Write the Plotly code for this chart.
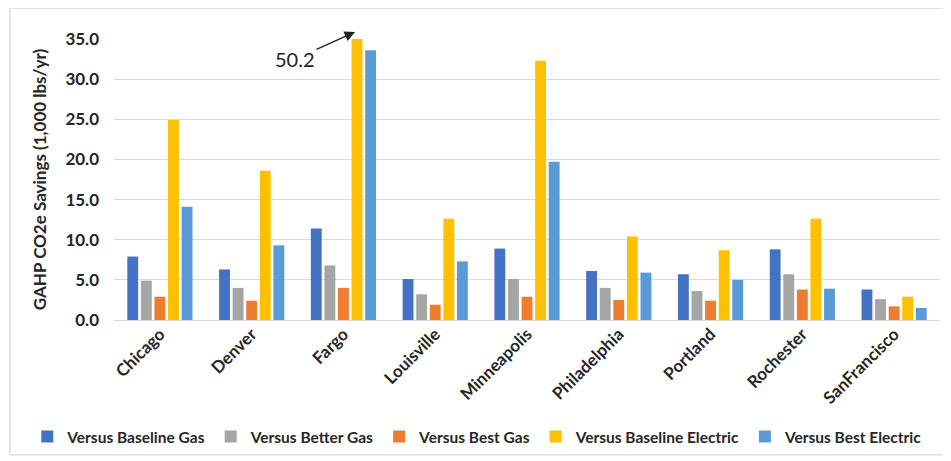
import plotly.graph_objects as go

cities = ["Chicago", "Denver", "Fargo", "Louisville", "Minneapolis",
          "Philadelphia", "Portland", "Rochester", "SanFrancisco"]
baseline_gas = [7.9, 6.3, 11.4, 5.1, 8.9, 6.1, 5.7, 8.8, 3.8]
better_gas = [4.9, 4.0, 6.8, 3.2, 5.1, 4.0, 3.6, 5.7, 2.6]
best_gas = [2.9, 2.4, 4.0, 1.9, 2.9, 2.5, 2.4, 3.8, 1.7]
baseline_electric = [24.9, 18.6, 50.2, 12.6, 32.3, 10.4, 8.7, 12.6, 2.9]
best_electric = [14.1, 9.3, 33.6, 7.3, 19.7, 5.9, 5.0, 3.9, 1.5]

series = [
    ("Versus Baseline Gas", baseline_gas, "#4472C4"),
    ("Versus Better Gas", better_gas, "#A5A5A5"),
    ("Versus Best Gas", best_gas, "#ED7D31"),
    ("Versus Baseline Electric", baseline_electric, "#FFC000"),
    ("Versus Best Electric", best_electric, "#5B9BD5"),
]

FONT = "Lato"
TXT = "#262626"
fig = go.Figure()
for name, vals, col in series:
    fig.add_trace(go.Bar(name=name, x=cities, y=vals, marker_color=col,
                         marker_line_width=0, cliponaxis=True))

# page body has an 8px default margin, so the figure is 8px smaller and shifted
fig.update_layout(
    width=943, height=453,
    margin=dict(l=106, r=11, t=31, b=141, autoexpand=False),
    paper_bgcolor="white", plot_bgcolor="white",
    barmode="group", bargap=0.26, bargroupgap=0.2,
    font=dict(family=FONT, color=TXT),
    legend=dict(orientation="h", x=-0.105, xanchor="left", y=-0.416, yanchor="middle",
                font=dict(family=FONT, size=15.5, color=TXT, weight="bold"),
                traceorder="normal", tracegroupgap=0),
    showlegend=True,
)
fig.update_xaxes(tickangle=-45, showgrid=False, showline=False, ticks="", automargin=False,
                 tickfont=dict(family=FONT, size=17, color=TXT, weight="bold"))
fig.update_yaxes(range=[0, 35], dtick=5, tickformat=".1f", showgrid=True, automargin=False,
                 gridcolor="#D9D9D9", gridwidth=1.3, zeroline=True, zerolinecolor="#D9D9D9",
                 zerolinewidth=1.3, ticks="", ticklabelstandoff=14,
                 tickfont=dict(family=FONT, size=17, color=TXT, weight="bold"),
                 title=dict(text="GAHP CO2e Savings (1,000 lbs/yr)", standoff=14,
                            font=dict(family=FONT, size=17, color=TXT, weight="bold")))

fig.add_annotation(x=2.126, y=1.025, xref="x", yref="paper", text="50.2",
                   showarrow=True, arrowhead=2, arrowsize=1.6, arrowwidth=1.3,
                   arrowcolor="#222222", ax=-60, ay=27,
                   font=dict(family=FONT, size=20, color="#222222"))

fig.add_shape(type="rect", xref="paper", yref="paper",
              x0=-0.1259, x1=1.006, y0=-0.480, y1=1.110,
              line=dict(color="#D9D9D9", width=1.3), fillcolor="rgba(0,0,0,0)")

fig.write_html("out.html")
